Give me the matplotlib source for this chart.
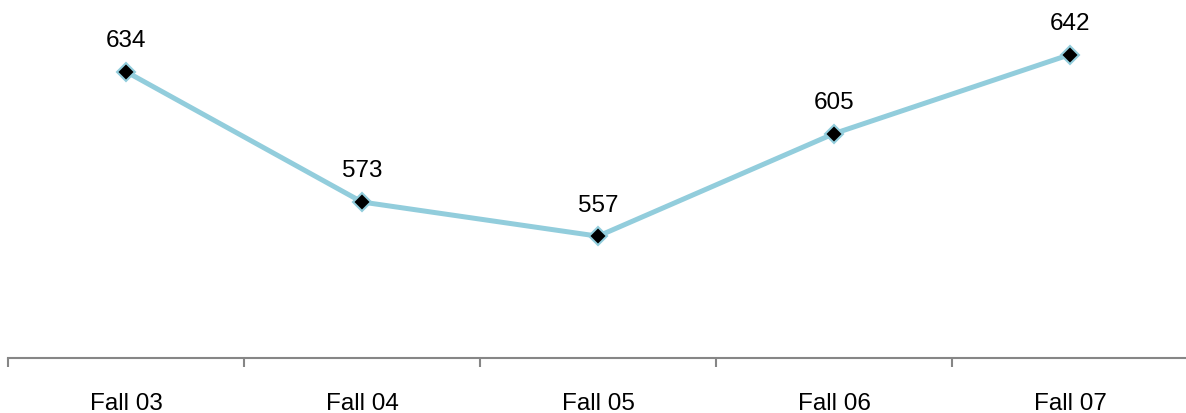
import numpy as np
import matplotlib.pyplot as plt

# enrollment by term
terms = ["Fall 03", "Fall 04", "Fall 05", "Fall 06", "Fall 07"]
counts = [634, 573, 557, 605, 642]

plt.rcParams['font.family'] = ['Liberation Sans', 'DejaVu Sans']

fig = plt.figure(figsize=(11.86, 4.14), dpi=100)
ax = fig.add_axes([8 / 1186, 55 / 414, 1180 / 1186, 359 / 414])

x = np.arange(len(terms))
ax.plot(x, counts, color="#92CDDC", lw=3.6, marker="D", markersize=9.5,
        markerfacecolor="black", markeredgecolor="#92CDDC", markeredgewidth=1.5,
        clip_on=False, zorder=3)

for xi, v in zip(x, counts):
    ax.annotate(str(v), (xi, v), xytext=(0, 18.5), textcoords="offset points",
                ha="center", va="baseline", fontsize=17.5, color="black")

ax.set_xlim(-0.5, len(terms) - 0.5)
ax.set_ylim(500, 668)

# category labels, tick marks between categories
ax.set_xticks(x)
ax.set_xticklabels(terms, fontsize=17.5)
ax.set_xticks(np.arange(len(terms) + 1) - 0.5, minor=True)
ax.tick_params(axis="x", which="major", length=0, pad=24.5)
ax.tick_params(axis="x", which="minor", length=6.5, width=1.5, color="#868686", direction="out")
ax.set_yticks([])

for s in ["top", "right", "left"]:
    ax.spines[s].set_visible(False)
ax.spines["bottom"].set_color("#868686")
ax.spines["bottom"].set_linewidth(1.5)

fig.savefig("out.png", dpi=100)
